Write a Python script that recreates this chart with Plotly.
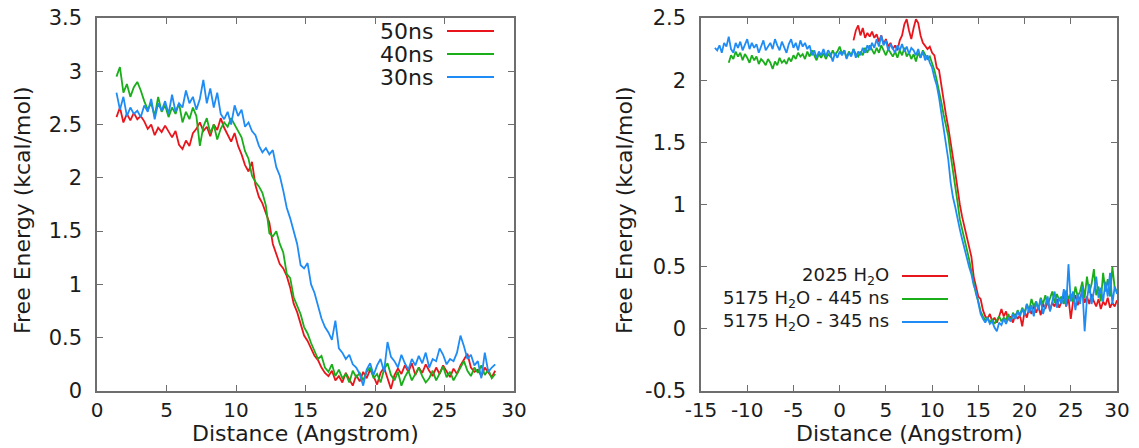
import numpy as np
import plotly.graph_objects as go

W, H = 1139, 448

# ---------------- Left panel data (distance grid 1.4 .. 28.65, step 0.25) ----------------
left_x_start, left_step = 1.4, 0.25
left_50ns = [
    2.57, 2.66, 2.52, 2.60, 2.54, 2.61, 2.55, 2.58,
    2.53, 2.46, 2.50, 2.40, 2.47, 2.43, 2.49, 2.44,
    2.38, 2.44, 2.31, 2.27, 2.35, 2.30, 2.42, 2.46,
    2.52, 2.44, 2.48, 2.39, 2.50, 2.45, 2.56, 2.47,
    2.40, 2.34, 2.42, 2.30, 2.22, 2.12, 2.06, 2.15,
    1.93, 1.82, 1.76, 1.66, 1.58, 1.38, 1.28, 1.19,
    1.15, 1.08, 0.97, 0.82, 0.74, 0.62, 0.52, 0.47,
    0.40, 0.33, 0.29, 0.22, 0.17, 0.14, 0.19, 0.10,
    0.14, 0.08, 0.17, 0.11, 0.05, 0.15, 0.09, 0.18,
    0.12, 0.20, 0.14, 0.06, 0.17, 0.22, 0.13, 0.02,
    0.15, 0.21, 0.16, 0.24, 0.18, 0.26, 0.15, 0.22,
    0.17, 0.25, 0.19, 0.14, 0.22, 0.16, 0.24, 0.18,
    0.13, 0.21, 0.16, 0.24, 0.30, 0.35, 0.22, 0.18,
    0.20, 0.14, 0.22, 0.17, 0.13, 0.19,
]
left_40ns = [
    2.95, 3.04, 2.80, 2.88, 2.76, 2.85, 2.90, 2.82,
    2.72, 2.64, 2.70, 2.58, 2.76, 2.62, 2.68, 2.57,
    2.66, 2.60, 2.70, 2.52, 2.62, 2.55, 2.66, 2.58,
    2.30, 2.48, 2.56, 2.42, 2.50, 2.36, 2.46, 2.52,
    2.48, 2.56, 2.50, 2.44, 2.38, 2.25, 2.18, 2.02,
    1.96, 1.92, 1.86, 1.74, 1.48, 1.45, 1.50, 1.38,
    1.30, 1.10, 1.06, 0.88, 0.80, 0.72, 0.60, 0.54,
    0.45, 0.38, 0.30, 0.33, 0.22, 0.18, 0.25, 0.14,
    0.20, 0.12, 0.16, 0.08, 0.19, 0.13, 0.17, 0.10,
    0.18, 0.22, 0.12, 0.16, 0.08, 0.20, 0.26, 0.15,
    0.10, 0.18, 0.05, 0.13, 0.19, 0.10, 0.16, 0.22,
    0.14, 0.08, 0.12, 0.19, 0.10, 0.16, 0.23, 0.13,
    0.18, 0.10, 0.16, 0.21, 0.28, 0.19, 0.14, 0.22,
    0.17, 0.24, 0.15, 0.20, 0.12, 0.16,
]
left_30ns = [
    2.80, 2.64, 2.76, 2.58, 2.66, 2.60, 2.63, 2.57,
    2.68, 2.62, 2.74, 2.55, 2.70, 2.63, 2.72, 2.60,
    2.78, 2.62, 2.70, 2.66, 2.82, 2.70, 2.76, 2.64,
    2.74, 2.92, 2.70, 2.84, 2.66, 2.80, 2.60, 2.55,
    2.62, 2.50, 2.68, 2.58, 2.64, 2.48, 2.52, 2.44,
    2.40, 2.30, 2.24, 2.28, 2.22, 2.26, 2.10, 2.02,
    1.88, 1.72, 1.62, 1.50, 1.38, 1.18, 1.15, 1.20,
    1.00, 0.92, 0.80, 0.68, 0.60, 0.55, 0.48, 0.66,
    0.40, 0.36, 0.30, 0.34, 0.25, 0.22, 0.16, 0.05,
    0.20, 0.26, 0.15, 0.24, 0.30, 0.18, 0.46, 0.32,
    0.28, 0.22, 0.34, 0.26, 0.20, 0.30, 0.24, 0.33,
    0.26, 0.36, 0.22, 0.30, 0.28, 0.40, 0.34, 0.25,
    0.30, 0.28, 0.36, 0.52, 0.42, 0.30, 0.34, 0.24,
    0.28, 0.12, 0.36, 0.18, 0.22, 0.25,
]
left_names = ["50ns", "40ns", "30ns"]

# ---------------- Right panel data (step 0.25) ----------------
right_step = 0.25
r2025_x_start = 1.5
r2025 = [
    2.32, 2.40, 2.44, 2.36, 2.42, 2.34, 2.38, 2.35,
    2.39, 2.34, 2.37, 2.31, 2.36, 2.29, 2.33, 2.27,
    2.30, 2.25, 2.28, 2.24, 2.32, 2.36, 2.45, 2.49,
    2.40, 2.33, 2.42, 2.49, 2.46, 2.36, 2.30, 2.27,
    2.25, 2.27, 2.22, 2.20, 2.10, 2.08, 1.95, 1.85,
    1.72, 1.62, 1.48, 1.38, 1.26, 1.12, 1.00, 0.90,
    0.82, 0.74, 0.66, 0.58, 0.42, 0.35, 0.26, 0.24,
    0.15, 0.10, 0.08, 0.12, 0.06, 0.09, 0.05, 0.10,
    0.16, 0.10, 0.14, 0.07, 0.10, 0.05, 0.12, 0.08,
    0.11, 0.02, 0.14, 0.09, 0.17, 0.12, 0.19, 0.13,
    0.18, 0.11, 0.20, 0.16, 0.23, 0.15, 0.21, 0.18,
    0.24, 0.17, 0.22, 0.27, 0.18, 0.25, 0.08, 0.22,
    0.27, 0.19, 0.25, 0.30, 0.21, 0.26, 0.20, 0.28,
    0.22, 0.18, 0.24, 0.16, 0.22, 0.19, 0.25, 0.17,
    0.21, 0.18, 0.23,
]
r445_x_start = -12.0
r445 = [
    2.14, 2.20, 2.17, 2.23, 2.19, 2.22, 2.16, 2.21,
    2.18, 2.14, 2.20, 2.16, 2.19, 2.13, 2.17, 2.15,
    2.12, 2.17, 2.14, 2.09, 2.15, 2.12, 2.18, 2.14,
    2.16, 2.13, 2.18, 2.15, 2.20, 2.17, 2.22, 2.19,
    2.21, 2.17, 2.23, 2.19, 2.24, 2.20, 2.16, 2.21,
    2.18, 2.22, 2.17, 2.21, 2.19, 2.24, 2.20, 2.23,
    2.27, 2.21, 2.24, 2.18, 2.23, 2.20, 2.25, 2.21,
    2.19, 2.23, 2.20, 2.26, 2.22, 2.28, 2.24, 2.21,
    2.26, 2.22, 2.28, 2.24, 2.20, 2.25, 2.22, 2.19,
    2.23, 2.18, 2.24, 2.20, 2.26, 2.19, 2.22, 2.17,
    2.21, 2.15, 2.22, 2.18, 2.24, 2.20, 2.17, 2.19,
    2.14, 2.08, 2.00, 1.92, 1.82, 1.72, 1.64, 1.55,
    1.40, 1.28, 1.14, 1.02, 0.88, 0.80, 0.72, 0.65,
    0.56, 0.46, 0.36, 0.28, 0.22, 0.14, 0.10, 0.07,
    0.09, 0.05, 0.08, 0.04, 0.07, 0.10, 0.06, 0.09,
    0.07, 0.12, 0.06, 0.13, 0.09, 0.15, 0.11, 0.17,
    0.13, 0.20, 0.15, 0.24, 0.18, 0.22, 0.16, 0.25,
    0.20, 0.27, 0.19, 0.24, 0.30, 0.21, 0.28, 0.23,
    0.26, 0.20, 0.31, 0.24, 0.28, 0.22, 0.34, 0.26,
    0.30, 0.38, 0.25, 0.42, 0.29, 0.36, 0.48, 0.27,
    0.34, 0.22, 0.45, 0.30, 0.40, 0.26, 0.50, 0.33,
    0.30,
]
r345_x_start = -13.5
r345 = [
    2.26, 2.24, 2.28, 2.22, 2.30, 2.27, 2.35, 2.25,
    2.22, 2.30, 2.26, 2.31, 2.24, 2.29, 2.33, 2.25,
    2.30, 2.26, 2.29, 2.22, 2.28, 2.32, 2.24, 2.27,
    2.30, 2.25, 2.33, 2.28, 2.24, 2.31, 2.27, 2.22,
    2.29, 2.33, 2.26, 2.30, 2.24, 2.32, 2.27, 2.30,
    2.25, 2.28, 2.20, 2.24, 2.18, 2.23, 2.20, 2.25,
    2.19, 2.24, 2.21, 2.15, 2.22, 2.18, 2.23, 2.20,
    2.24, 2.17, 2.22, 2.19, 2.25, 2.18, 2.23, 2.20,
    2.26, 2.22, 2.28, 2.24, 2.30, 2.26, 2.33, 2.27,
    2.36, 2.28, 2.32, 2.24, 2.29, 2.26, 2.22, 2.28,
    2.24, 2.29, 2.23, 2.27, 2.21, 2.26, 2.24, 2.20,
    2.25, 2.18, 2.23, 2.16, 2.20, 2.14, 2.10, 2.02,
    1.96, 1.86, 1.74, 1.62, 1.50, 1.36, 1.18, 1.06,
    0.98, 0.88, 0.80, 0.72, 0.64, 0.56, 0.50, 0.44,
    0.35, 0.30, 0.22, 0.12, 0.08, 0.05, 0.09, 0.04,
    0.06, 0.01, -0.02, 0.05, 0.03, 0.08, 0.04, 0.09,
    0.06, 0.12, 0.08, 0.14, 0.10, 0.16, 0.11, 0.20,
    0.13, 0.19, 0.10, 0.22, 0.15, 0.24, 0.12, 0.20,
    0.26, 0.14, 0.22, 0.30, 0.17, 0.25, 0.20, 0.32,
    0.18, 0.52, 0.22, 0.30, 0.15, 0.28, 0.20, 0.34,
    -0.02, 0.24, 0.36, 0.20, 0.30, 0.42, 0.25, 0.33,
    0.22, 0.38, 0.26, 0.45, 0.20, 0.34, 0.28,
]
right_names = ["2025 H<sub>2</sub>O", "5175 H<sub>2</sub>O - 445 ns", "5175 H<sub>2</sub>O - 345 ns"]

left_xticks = [0, 5, 10, 15, 20, 25, 30]
left_yticks = [0, 0.5, 1, 1.5, 2, 2.5, 3, 3.5]
left_yticktext = ["0", "0.5", "1", "1.5", "2", "2.5", "3", "3.5"]
right_xticks = [-15, -10, -5, 0, 5, 10, 15, 20, 25, 30]
right_xticktext = ["-15", "-10", "-5", "0", "5", "10", "15", "20", "25", "30"]
right_yticks = [-0.5, 0, 0.5, 1, 1.5, 2, 2.5]
right_yticktext = ["-0.5", "0", "0.5", "1", "1.5", "2", "2.5"]

# ---------------- Styling ----------------
RED, GREEN, BLUE = "#e8161c", "#1aae1a", "#1f8cf5"
colors = [RED, GREEN, BLUE]
FONT = "DejaVu Sans"
TXT = "#1c1c1c"
AXC = "#6e6e6e"

def grid(start, n, step):
    return np.round(start + step * np.arange(n), 3)

def px(x):  # pixel -> paper x
    return x / W

def py(y):  # pixel (from top) -> paper y
    return 1 - y / H

L_left, L_right, P_left, P_right = 97, 514, 701, 1117
P_top, P_bot = 18, 391

fig = go.Figure()
for vals, name, c in zip([left_50ns, left_40ns, left_30ns], left_names, colors):
    fig.add_trace(go.Scatter(x=grid(left_x_start, len(vals), left_step), y=vals, mode="lines",
                             name=name, line=dict(color=c, width=1.8), xaxis="x", yaxis="y",
                             showlegend=False))
for vals, start, name, c in zip([r2025, r445, r345], [r2025_x_start, r445_x_start, r345_x_start],
                                right_names, colors):
    fig.add_trace(go.Scatter(x=grid(start, len(vals), right_step), y=vals, mode="lines",
                             name=name, line=dict(color=c, width=1.8), xaxis="x2", yaxis="y2",
                             showlegend=False))

axis_common = dict(showgrid=False, zeroline=False, showline=True, mirror="ticks", automargin=False,
                   linecolor=AXC, linewidth=1.5, ticks="inside", ticklen=6, tickwidth=1.2,
                   tickcolor=AXC)
tick_font = dict(family=FONT, size=21, color=TXT)
xtick_font = dict(family=FONT, size=20, color=TXT)

fig.update_layout(
    template="none",
    width=W, height=H, margin=dict(l=0, r=0, t=0, b=0, pad=0),
    paper_bgcolor="white", plot_bgcolor="white", showlegend=False,
    xaxis=dict(domain=[px(L_left), px(L_right)], range=[0, 30], tickvals=left_xticks,
               anchor="y", ticklabelstandoff=0, tickfont=xtick_font, **axis_common),
    yaxis=dict(domain=[py(P_bot), py(P_top)], range=[0, 3.5], tickvals=left_yticks,
               ticktext=left_yticktext, anchor="x", ticklabelstandoff=9, tickfont=tick_font,
               **axis_common),
    xaxis2=dict(domain=[px(P_left), px(P_right)], range=[-15, 30], tickvals=right_xticks,
                ticktext=right_xticktext, anchor="y2", ticklabelstandoff=0, tickfont=xtick_font,
                **axis_common),
    yaxis2=dict(domain=[py(P_bot), py(P_top)], range=[-0.5, 2.5], tickvals=right_yticks,
                ticktext=right_yticktext, anchor="x2", ticklabelstandoff=9, tickfont=tick_font,
                **axis_common),
)

ann = []
title_font = dict(family=FONT, size=22, color=TXT)
for cx in [(L_left + L_right) / 2, (P_left + P_right) / 2]:
    ann.append(dict(x=px(cx), y=py(433), xref="paper", yref="paper", text="Distance (Angstrom)",
                    showarrow=False, font=title_font, xanchor="center", yanchor="middle"))
for cx in [22, 624]:
    ann.append(dict(x=px(cx), y=py(210), xref="paper", yref="paper", text="Free Energy (kcal/mol)",
                    showarrow=False, font=title_font, textangle=-90, xanchor="center", yanchor="middle"))

shapes = []
# left legend
for name, c, yy in zip(left_names, colors, [31, 54, 77]):
    ann.append(dict(x=px(435), y=py(yy), xref="paper", yref="paper", text=name, showarrow=False,
                    font=dict(family=FONT, size=22, color=TXT), xanchor="right", yanchor="middle"))
    shapes.append(dict(type="line", xref="paper", yref="paper", x0=px(447), x1=px(494),
                       y0=py(yy), y1=py(yy), line=dict(color=c, width=2)))
# right legend
for name, c, yy in zip(right_names, colors, [276, 299, 322]):
    ann.append(dict(x=px(891), y=py(yy), xref="paper", yref="paper", text=name, showarrow=False,
                    font=dict(family=FONT, size=18, color=TXT), xanchor="right", yanchor="middle"))
    shapes.append(dict(type="line", xref="paper", yref="paper", x0=px(902), x1=px(948),
                       y0=py(yy), y1=py(yy), line=dict(color=c, width=2)))

fig.update_layout(annotations=ann, shapes=shapes)
fig.write_html("out.html")
